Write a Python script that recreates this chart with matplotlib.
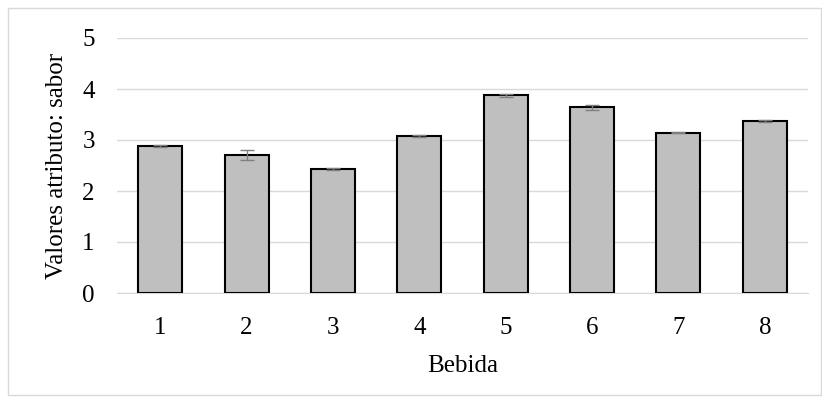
import matplotlib.pyplot as plt
from matplotlib.patches import Rectangle

bebidas = ['1', '2', '3', '4', '5', '6', '7', '8']
sabor = [2.88, 2.70, 2.43, 3.07, 3.88, 3.64, 3.14, 3.38]
errores = [0.02, 0.10, 0.02, 0.02, 0.03, 0.05, 0.01, 0.02]

plt.rcParams['font.family'] = ['Liberation Serif', 'DejaVu Serif']

fig = plt.figure(figsize=(8.22, 4.03), dpi=100)
ax = fig.add_axes([117 / 822, 1 - 293 / 403, 691 / 822, 255 / 403])

x = range(len(bebidas))
ax.bar(x, sabor, width=0.51, color='#bfbfbf', edgecolor='black', linewidth=1.5, zorder=3)
ax.errorbar(x, sabor, yerr=errores, fmt='none', ecolor='#7f7f7f', elinewidth=1,
            capsize=5, capthick=1, zorder=4)

ax.set_xlim(-0.5, len(bebidas) - 0.5)
ax.set_ylim(0, 5)
ax.set_yticks([0, 1, 2, 3, 4, 5])
ax.set_xticks(list(x))
ax.set_xticklabels(bebidas)
ax.yaxis.grid(True, color='#d9d9d9', linewidth=1, zorder=0)
ax.tick_params(axis='both', length=0, labelsize=18)
ax.tick_params(axis='x', pad=17)
ax.tick_params(axis='y', pad=16)
for s in ['top', 'right', 'left']:
    ax.spines[s].set_visible(False)
ax.spines['bottom'].set_color('#d9d9d9')

ax.set_xlabel('Bebida', fontsize=18, labelpad=12)
ax.set_ylabel('Valores atributo: sabor', fontsize=18, labelpad=10)

fig.patches.append(Rectangle((8 / 822, 8 / 403), 1 - 9 / 822, 1 - 16 / 403,
                             transform=fig.transFigure, fill=False,
                             edgecolor='#d9d9d9', linewidth=1))

plt.savefig('out.png', dpi=100)
